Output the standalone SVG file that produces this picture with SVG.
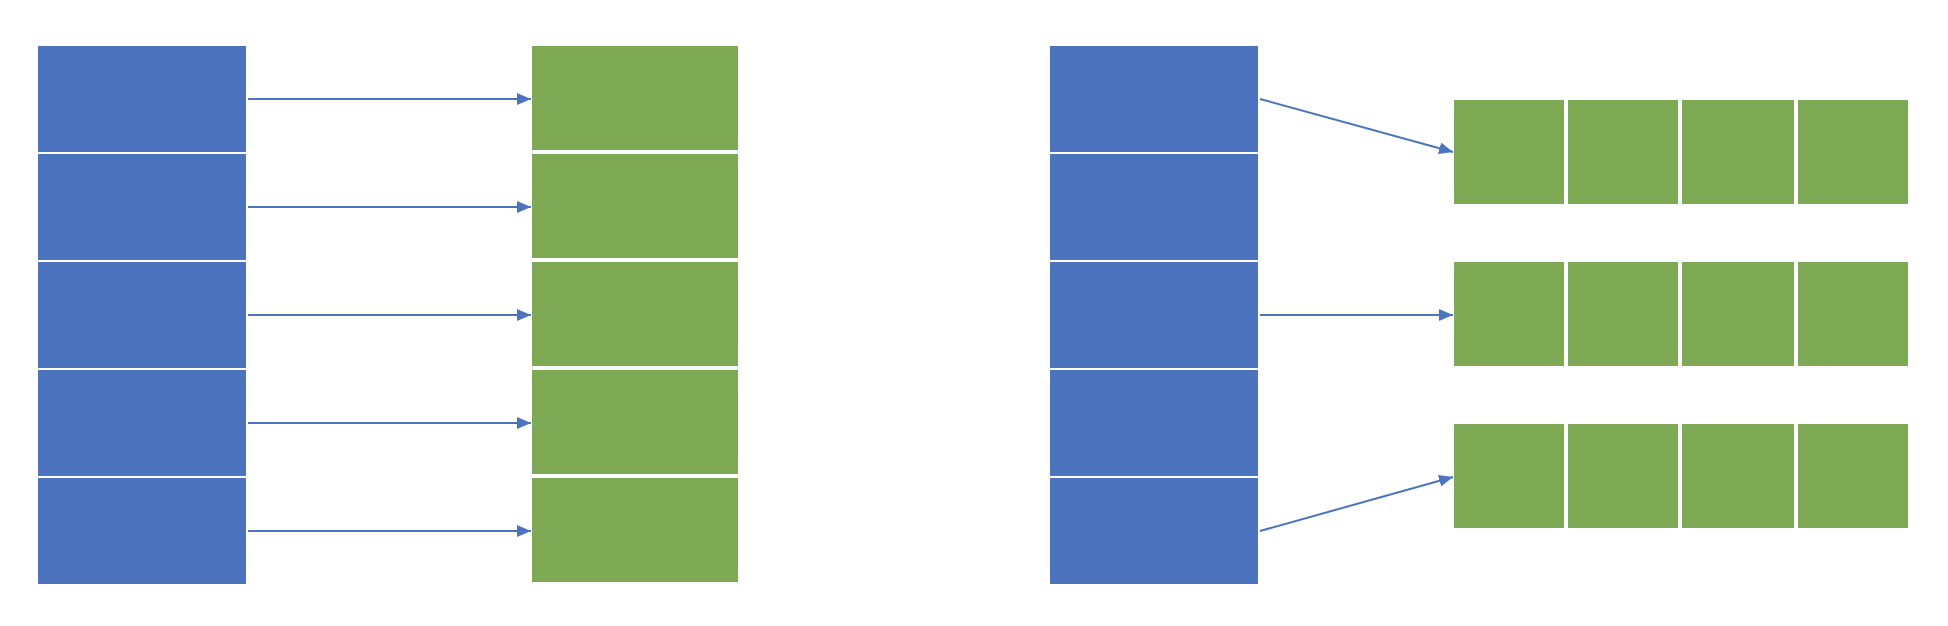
<svg xmlns="http://www.w3.org/2000/svg" width="1948" height="626" viewBox="0 0 1948 626">
  <style>
    .blue { fill: #4C74BE; }
    .green { fill: #7FAA55; }
    .conn { stroke: #4C74BE; stroke-width: 2; fill: none; marker-end: url(#arrow); }
  </style>
  <defs>
    <marker id="arrow" markerUnits="userSpaceOnUse" markerWidth="15" markerHeight="13" refX="14" refY="6" orient="auto">
      <path d="M0,0 L14,6 L0,12 z" fill="#4C74BE"/>
    </marker>
  </defs>
  <rect width="1948" height="626" fill="#FFFFFF"/>

  <!-- Left: blue column -->
  <g id="lb1"><rect class="blue" x="38" y="46" width="208" height="106"/></g>
  <g id="lb2"><rect class="blue" x="38" y="154" width="208" height="106"/></g>
  <g id="lb3"><rect class="blue" x="38" y="262" width="208" height="106"/></g>
  <g id="lb4"><rect class="blue" x="38" y="370" width="208" height="106"/></g>
  <g id="lb5"><rect class="blue" x="38" y="478" width="208" height="106"/></g>

  <!-- Left: green column -->
  <g id="lg1"><rect class="green" x="532" y="46" width="206" height="104"/></g>
  <g id="lg2"><rect class="green" x="532" y="154" width="206" height="104"/></g>
  <g id="lg3"><rect class="green" x="532" y="262" width="206" height="104"/></g>
  <g id="lg4"><rect class="green" x="532" y="370" width="206" height="104"/></g>
  <g id="lg5"><rect class="green" x="532" y="478" width="206" height="104"/></g>

  <!-- Right: blue column -->
  <g id="rb1"><rect class="blue" x="1050" y="46" width="208" height="106"/></g>
  <g id="rb2"><rect class="blue" x="1050" y="154" width="208" height="106"/></g>
  <g id="rb3"><rect class="blue" x="1050" y="262" width="208" height="106"/></g>
  <g id="rb4"><rect class="blue" x="1050" y="370" width="208" height="106"/></g>
  <g id="rb5"><rect class="blue" x="1050" y="478" width="208" height="106"/></g>

  <!-- Right: green rows -->
  <g id="rg1a"><rect class="green" x="1454" y="100" width="110" height="104"/></g>
  <g id="rg1b"><rect class="green" x="1568" y="100" width="110" height="104"/></g>
  <g id="rg1c"><rect class="green" x="1682" y="100" width="112" height="104"/></g>
  <g id="rg1d"><rect class="green" x="1798" y="100" width="110" height="104"/></g>

  <g id="rg2a"><rect class="green" x="1454" y="262" width="110" height="104"/></g>
  <g id="rg2b"><rect class="green" x="1568" y="262" width="110" height="104"/></g>
  <g id="rg2c"><rect class="green" x="1682" y="262" width="112" height="104"/></g>
  <g id="rg2d"><rect class="green" x="1798" y="262" width="110" height="104"/></g>

  <g id="rg3a"><rect class="green" x="1454" y="424" width="110" height="104"/></g>
  <g id="rg3b"><rect class="green" x="1568" y="424" width="110" height="104"/></g>
  <g id="rg3c"><rect class="green" x="1682" y="424" width="112" height="104"/></g>
  <g id="rg3d"><rect class="green" x="1798" y="424" width="110" height="104"/></g>

  <!-- Connectors -->
  <g id="connectors">
    <line class="conn" x1="248" y1="99" x2="531" y2="99"/>
    <line class="conn" x1="248" y1="207" x2="531" y2="207"/>
    <line class="conn" x1="248" y1="315" x2="531" y2="315"/>
    <line class="conn" x1="248" y1="423" x2="531" y2="423"/>
    <line class="conn" x1="248" y1="531" x2="531" y2="531"/>
    <line class="conn" x1="1260" y1="99" x2="1453" y2="152"/>
    <line class="conn" x1="1260" y1="315" x2="1453" y2="315"/>
    <line class="conn" x1="1260" y1="531" x2="1453" y2="477"/>
  </g>
</svg>
